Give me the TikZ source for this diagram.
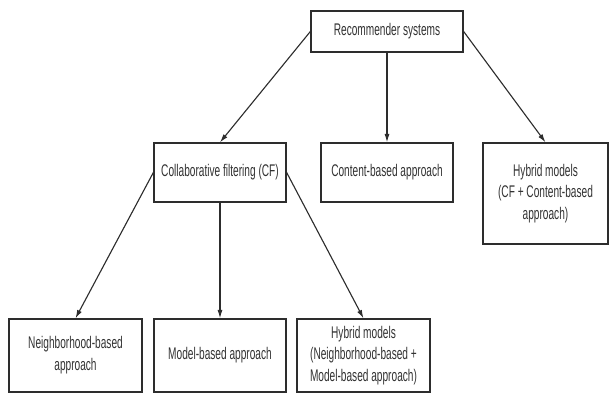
\documentclass[tikz,border=0pt]{standalone}
\usepackage{fontspec}
\setmainfont{Liberation Sans}[FakeStretch=0.6]
\usepackage{tikz}
\usetikzlibrary{arrows.meta, positioning}
\definecolor{boxline}{RGB}{45,45,45}
\definecolor{boxtext}{RGB}{50,50,50}

\begin{document}
\begin{tikzpicture}[
    x=0.025cm, y=-0.025cm,
    box/.style={rectangle, draw=boxline, line width=0.9pt, inner sep=0pt, align=center, text=boxtext, font=\fontsize{12}{15.5}\selectfont},
    arrow/.style={-{Latex[length=6pt, width=3.6pt]}, draw=boxline, line width=0.8pt}
]
    \useasboundingbox (0, 0) rectangle (612, 394);

    % Root
    \node[box, minimum width=3.8cm, minimum height=1.025cm] (rec) at (387, 31.5) {Recommender systems};

    % Second level
    \node[box, minimum width=3.3cm, minimum height=1.475cm] (cf) at (220, 172.5) {Collaborative filtering (CF)};
    \node[box, minimum width=3.3cm, minimum height=1.475cm] (content) at (387, 172.5) {Content-based approach};
    \node[box, minimum width=3.125cm, minimum height=2.525cm] (hybrid) at (545.5, 193.5) {Hybrid models\\(CF + Content-based\\approach)};

    \draw[arrow] (rec.west) -- (cf.north);
    \draw[arrow] (rec.south) -- (content.north);
    \draw[arrow] (rec.east) -- (hybrid.north);

    % Third level
    \node[box, minimum width=3.325cm, minimum height=1.825cm] (nbr) at (75.5, 355.5) {Neighborhood-based\\approach};
    \node[box, minimum width=3.3cm, minimum height=1.825cm] (model) at (220, 355.5) {Model-based approach};
    \node[box, minimum width=3.325cm, minimum height=1.825cm] (hybcf) at (363.5, 355.5) {Hybrid models\\(Neighborhood-based +\\Model-based approach)};

    \draw[arrow] (cf.west) -- (nbr.north);
    \draw[arrow] (cf.south) -- (model.north);
    \draw[arrow] (cf.east) -- (hybcf.north);
\end{tikzpicture}
\end{document}
